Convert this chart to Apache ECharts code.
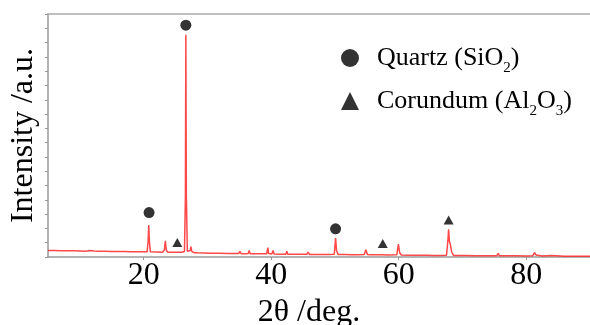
<!DOCTYPE html>
<html>
<head>
<meta charset="utf-8">
<script src="https://cdn.jsdelivr.net/npm/echarts@6/dist/echarts.min.js"></script>
<style>html,body{margin:0;padding:0;background:#fff}#c{width:590px;height:325px}</style>
</head>
<body>
<div id="c"></div>
<script>
// XRD pattern (2θ in degrees, intensity in arbitrary units)
const twoTheta = [
  5.0, 6.0, 7.0, 8.0, 9.0, 10.0, 11.0, 11.6, 11.9, 12.2,
  13.0, 14.0, 15.0, 16.0, 17.0, 18.0, 19.0, 20.0, 20.55, 20.7,
  20.8, 20.9, 21.05, 22.0, 23.0, 23.25, 23.4, 23.55, 23.75, 24.5,
  25.2, 25.6, 26.0, 26.4, 26.55, 26.62, 26.7, 26.85, 27.1, 27.3,
  27.42, 27.55, 27.9, 28.5, 29.5, 30.5, 32.0, 33.0, 34.0, 34.9,
  35.1, 35.3, 36.0, 36.4, 36.55, 36.7, 37.5, 38.5, 39.3, 39.47,
  39.6, 40.1, 40.3, 40.45, 41.5, 42.3, 42.45, 42.6, 43.2, 43.35,
  43.5, 44.5, 45.6, 45.8, 46.0, 47.0, 48.0, 49.0, 49.9, 50.1,
  50.25, 50.5, 51.5, 52.5, 53.5, 54.6, 54.85, 55.1, 55.5, 56.5,
  57.3, 57.45, 57.6, 58.5, 59.7, 59.95, 60.15, 60.4, 61.5, 62.5,
  63.5, 64.5, 65.5, 66.5, 67.5, 67.72, 67.83, 67.95, 68.12, 68.3,
  68.6, 69.5, 70.5, 72.0, 73.5, 75.4, 75.6, 75.8, 77.0, 78.5,
  80.0, 81.0, 81.3, 81.55, 82.5, 84.0, 84.3, 86.0, 88.0, 90.0
];
const intensity = [
  45, 45, 44, 44, 43, 42, 41, 45, 50, 42,
  40, 40, 39, 38, 38, 37, 37, 36, 36, 110,
  223, 110, 36, 35, 34, 50, 114, 50, 34, 33,
  33, 34, 33, 38, 420, 1554, 420, 40, 31, 45,
  72, 40, 30, 29, 28, 27, 26, 25, 24, 24,
  40, 23, 23, 25, 45, 23, 22, 22, 22, 65,
  25, 21, 45, 21, 20, 20, 40, 20, 20, 30,
  19, 19, 19, 35, 18, 18, 18, 18, 19, 132,
  45, 17, 17, 16, 16, 17, 50, 18, 15, 15,
  16, 24, 14, 14, 15, 90, 30, 14, 13, 13,
  12, 12, 11, 11, 12, 120, 193, 110, 84, 35,
  11, 10, 10, 9, 9, 9, 25, 9, 8, 8,
  7, 8, 30, 14, 7, 10, 7, 6, 5, 5
];

// Phase markers placed above identified reflections
const quartzName = 'Quartz (SiO2)';
const corundumName = 'Corundum (Al2O3)';
const quartzMarks = [[20.85, 311], [26.62, 1622], [50.1, 197]];
const corundumMarks = [[25.28, 101], [57.5, 95], [67.83, 258]];

const xTicks = [20, 40, 60, 80];
const xMin = 5, xMax = 90;
const yMin = 0, yMax = 1700, yStep = 100;

const serif = 'Liberation Serif, Times New Roman, serif';
const axisGray = '#9a9a9a';

const chart = echarts.init(document.getElementById('c'), null, {renderer: 'canvas'});
chart.setOption({
  animation: false,
  backgroundColor: '#ffffff',
  grid: {left: 48, right: 0, top: 14, bottom: 68, containLabel: false, outerBoundsMode: 'none'},
  legend: {
    data: [
      {name: quartzName, icon: 'circle'},
      {name: corundumName, icon: 'triangle'}
    ],
    orient: 'vertical',
    left: 341,
    top: 45,
    padding: 0,
    itemWidth: 18,
    itemHeight: 18,
    itemGap: 12,
    itemTextGap: 19,
    selectedMode: false,
    formatter: function (name) {
      if (name === quartzName) return '{f|Quartz (SiO}{s|2}{n|)}';
      return '{f|Corundum (Al}{s|2}{n|O}{s|3}{n|)}';
    },
    textStyle: {
      fontFamily: serif,
      color: '#000',
      rich: {
        f: {fontFamily: serif, fontSize: 26, lineHeight: 36, color: '#000', padding: [0, 0, 0, 13]},
        n: {fontFamily: serif, fontSize: 26, lineHeight: 36, color: '#000'},
        s: {fontFamily: serif, fontSize: 15, lineHeight: 15, verticalAlign: 'bottom', color: '#000'}
      }
    }
  },
  xAxis: [{
    type: 'value',
    min: xMin,
    max: xMax,
    name: '2θ /deg.',
    nameLocation: 'middle',
    nameGap: 36,
    nameTextStyle: {fontFamily: serif, fontSize: 32, color: '#000', padding: [0, 20, 0, 0]},
    axisLine: {show: true, onZero: false, lineStyle: {color: axisGray, width: 1.5}},
    axisTick: {show: true, length: 3, lineStyle: {color: axisGray}, customValues: xTicks},
    axisLabel: {show: true, fontFamily: serif, fontSize: 32, color: '#000', margin: 3, customValues: xTicks},
    splitLine: {show: false}
  }, {
    type: 'value',
    position: 'top',
    min: xMin,
    max: xMax,
    axisLine: {show: true, onZero: false, lineStyle: {color: '#aaaaaa', width: 1.5}},
    axisTick: {show: false},
    axisLabel: {show: false},
    splitLine: {show: false}
  }],
  yAxis: {
    type: 'value',
    min: yMin,
    max: yMax,
    interval: yStep,
    name: 'Intensity /a.u.',
    nameLocation: 'middle',
    nameGap: 8,
    nameTextStyle: {fontFamily: serif, fontSize: 32, color: '#000'},
    axisLine: {show: true, onZero: false, lineStyle: {color: axisGray, width: 1.5}},
    axisTick: {show: true, length: 3, lineStyle: {color: axisGray}},
    axisLabel: {show: false},
    splitLine: {show: false}
  },
  series: [{
    name: 'XRD',
    type: 'line',
    data: twoTheta.map((t, i) => [t, intensity[i]]),
    showSymbol: false,
    symbol: 'none',
    lineStyle: {color: 'rgba(255,40,40,0.85)', width: 1.5},
    z: 3
  }, {
    name: quartzName,
    type: 'scatter',
    data: quartzMarks,
    symbol: 'circle',
    symbolSize: 11,
    itemStyle: {color: '#000'},
    z: 4
  }, {
    name: corundumName,
    type: 'scatter',
    data: corundumMarks,
    symbol: 'triangle',
    symbolSize: [10, 9],
    itemStyle: {color: '#000'},
    z: 4
  }]
});
</script>
</body>
</html>
